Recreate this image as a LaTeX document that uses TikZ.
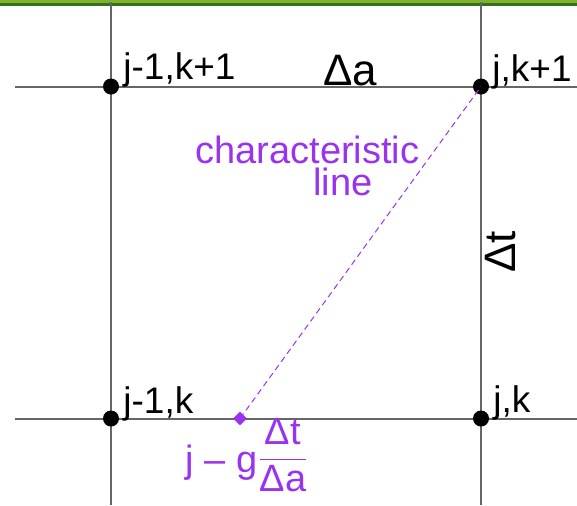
\documentclass[tikz,border=0pt]{standalone}
\usepackage{amsmath}
\usepackage{fontspec}
\setmainfont{Liberation Sans}
\usetikzlibrary{shapes.geometric}
\definecolor{charpurple}{RGB}{153,51,238}
\definecolor{barlight}{RGB}{128,178,48}
\definecolor{bardark}{RGB}{52,112,30}

\begin{document}
\begin{tikzpicture}[x=0.5pt, y=-0.5pt,
  grid/.style={black!60, line width=1pt},
  gridpt/.style={circle, fill=black, inner sep=0pt, minimum size=8pt},
  lbl/.style={anchor=base west, inner sep=0pt, font=\fontsize{18.5}{22}\selectfont},
  deltalbl/.style={inner sep=0pt, font=\fontsize{22}{26}\selectfont},
  charlbl/.style={lbl, text=charpurple, font=\fontsize{19}{16}\selectfont}]
\useasboundingbox (0,0) rectangle (577,505);

% Top bar
\fill[barlight] (0,0) rectangle (577,2.5);
\fill[bardark] (0,2.5) rectangle (577,5.5);

% Grid lines
\foreach \x in {111,481} {
 \draw[grid] (\x,2) -- (\x,505);
}
\foreach \y in {86.5,418.5} {
 \draw[grid] (15,\y) -- (577,\y);
}

% Grid points
\node[gridpt] (p11) at (111,86.5) {};
\node[gridpt] (p21) at (481,86.5) {};
\node[gridpt] (p10) at (111,418.5) {};
\node[gridpt] (p20) at (481,418.5) {};

% Point labels
\node[lbl] (l11) at (123,79) {j-1,k+1};
\node[lbl] (l21) at (492,81) {j,k+1};
\node[lbl] (l10) at (123,413) {j-1,k};
\node[lbl] (l20) at (493,412) {j,k};

% Steps
\node[deltalbl, anchor=base west] (da) at (323,85) {Δa};
\node[deltalbl, anchor=base, rotate=90] (dt) at (515,252) {Δt};

% Characteristic line
\node[diamond, fill=charpurple, inner sep=0pt, minimum size=7pt] (foot) at (240,418.5) {};
\draw[charpurple, line width=0.5pt, dash pattern=on 3pt off 2pt] (foot.center) -- (p21.center);
\node[charlbl, align=left] (charlbl) at (195,195) {characteristic\\\hspace*{59pt}line};
\node[charlbl] (footlbl) at (185,472) {j – g\raisebox{2pt}{$\dfrac{\text{Δt}}{\text{Δa}}$}};
\end{tikzpicture}
\end{document}
